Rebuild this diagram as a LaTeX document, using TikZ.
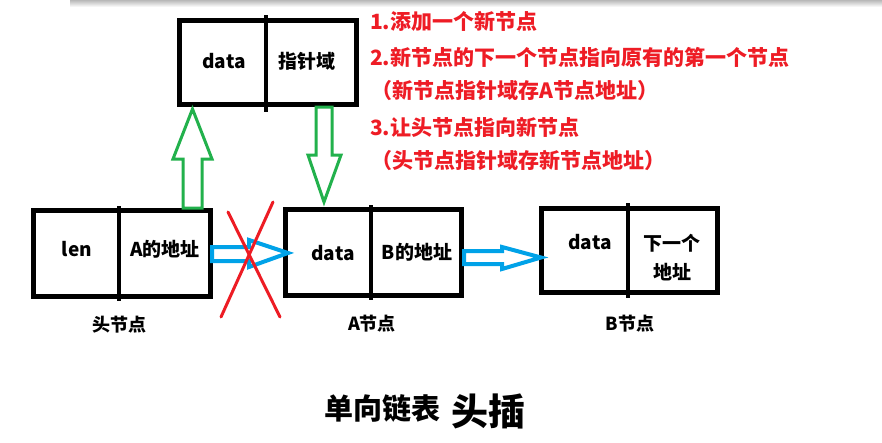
\documentclass[tikz,border=0pt]{standalone}
\usepackage{fontspec}
\setmainfont{Noto Sans CJK SC}
\definecolor{notered}{HTML}{EE1C25}
\definecolor{arrgreen}{HTML}{22B14C}
\definecolor{arrblue}{HTML}{00A2E8}
\definecolor{crossred}{HTML}{ED1C24}
\begin{document}
\begin{tikzpicture}[x=1pt,y=-1pt,
  box/.style={draw=black, line width=5pt, inner sep=0pt},
  divider/.style={draw=black, line width=4pt},
  cell/.style={font=\fontsize{19}{22}\selectfont\bfseries, inner sep=0pt},
  lbl/.style={font=\fontsize{18}{21}\selectfont\bfseries, inner sep=0pt},
  note/.style={font=\fontsize{21}{24}\selectfont\bfseries, text=notered, anchor=west, inner sep=0pt},
  garrow/.style={draw=arrgreen, line width=3pt, fill=white, line join=miter},
  barrow/.style={draw=arrblue, line width=4pt, fill=white, line join=miter},
  cross/.style={draw=crossred, line width=3pt, line cap=round}]
\useasboundingbox[fill=white] (0,0) rectangle (882,442);
\shade[top color=black!28, bottom color=white] (70,0) rectangle (882,7);

% node frames
\node[box, minimum width=177pt, minimum height=84pt] (newnode) at (267.5,62) {};
\node[box, minimum width=177pt, minimum height=86pt] (headnode) at (121.5,253) {};
\node[box, minimum width=176pt, minimum height=86pt] (anode) at (373,252) {};
\node[box, minimum width=176pt, minimum height=84pt] (bnode) at (629,250) {};

% dividers
\coordinate (nd1) at (266,15);  \coordinate (nd2) at (266,112);
\coordinate (hd1) at (119,206); \coordinate (hd2) at (119,301);
\coordinate (ad1) at (371,205); \coordinate (ad2) at (371,300);
\coordinate (bd1) at (628,203); \coordinate (bd2) at (628,298);
\draw[divider] (nd1) -- (nd2);
\draw[divider] (hd1) -- (hd2);
\draw[divider] (ad1) -- (ad2);
\draw[divider] (bd1) -- (bd2);

% cell texts
\node[cell] (ndata) at (224,61) {data};
\node[cell] (nptr) at (307,61) {指针域};
\node[cell] (hlen) at (77,249) {len};
\node[cell] (hptr) at (165,249) {A的地址};
\node[cell] (adata) at (333,253) {data};
\node[cell] (aptr) at (417,252) {B的地址};
\node[cell] (bdata) at (590,242) {data};
\node[cell] (bptr1) at (672,243) {下一个};
\node[cell] (bptr2) at (672,272) {地址};

% labels
\node[lbl] (hlbl) at (119.5,325) {头节点};
\node[lbl] (albl) at (372,324) {A节点};
\node[lbl] (blbl) at (630,324) {B节点};

% green block arrows
\draw[garrow] (183,208) -- (183,159) -- (173,159) -- (192.5,109) -- (212,159) -- (202,159) -- (202,208) -- cycle;
\draw[garrow] (316,107) -- (316,155) -- (308,155) -- (324,202) -- (341,155) -- (332,155) -- (332,107) -- cycle;

% blue block arrows
\draw[barrow] (212,247) -- (249,247) -- (249,240) -- (288,253) -- (249,267) -- (249,261) -- (212,261) -- cycle;
\draw[barrow] (464,251) -- (502,251) -- (502,247) -- (541,257.5) -- (502,269) -- (502,264) -- (464,264) -- cycle;

% red cross
\coordinate (x1a) at (228,212); \coordinate (x1b) at (280,317);
\coordinate (x2a) at (273,202); \coordinate (x2b) at (221,317);
\draw[cross] (x1a) -- (x1b);
\draw[cross] (x2a) -- (x2b);

% notes
\node[note] (n1) at (370,21) {1.添加一个新节点};
\node[note] (n2) at (370,57) {2.新节点的下一个节点指向原有的第一个节点};
\node[note] (n3) at (371,91) {（新节点指针域存A节点地址）};
\node[note] (n4) at (370,127) {3.让头节点指向新节点};
\node[note] (n5) at (371,161) {（头节点指针域存新节点地址）};

% title
\node[font=\fontsize{29}{34}\selectfont\bfseries, inner sep=0pt] (t1) at (382,408) {单向链表};
\node[font=\fontsize{37}{42}\selectfont\bfseries, inner sep=0pt] (t2) at (488,411) {头插};
\end{tikzpicture}
\end{document}
